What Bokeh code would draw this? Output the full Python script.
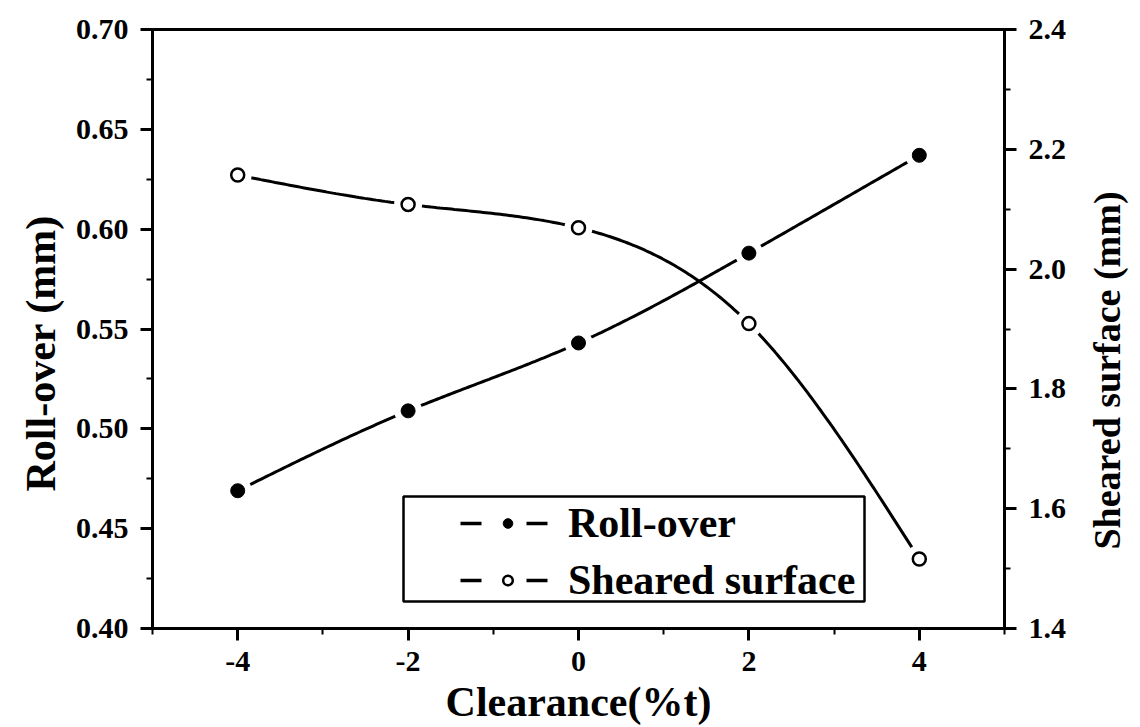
import math
import numpy as np
from bokeh.plotting import figure
from bokeh.layouts import row
from bokeh.models import (Range1d, LinearAxis, FixedTicker, Legend, LegendItem,
                          BoxAnnotation, ColumnDataSource, Title, Label)
from bokeh.embed import file_html
from bokeh.resources import INLINE

# ---------------- data ----------------
clearance = [-4, -2, 0, 2, 4]
roll_over = [0.469, 0.509, 0.543, 0.588, 0.637]
sheared_surface = [2.157, 2.108, 2.069, 1.909, 1.516]

series_names = ["Roll-over", "Sheared surface"]
x_title = "Clearance(%t)"
left_title = "Roll-over (mm)"
right_title = "Sheared surface (mm)"

x_ticks = [-4, -2, 0, 2, 4]
x_tick_labels = ["-4", "-2", "0", "2", "4"]
x_minor_ticks = [-5, -3, -1, 1, 3, 5]
left_ticks = [0.40, 0.45, 0.50, 0.55, 0.60, 0.65, 0.70]
left_tick_labels = ["0.40", "0.45", "0.50", "0.55", "0.60", "0.65", "0.70"]
left_minor_ticks = [0.425, 0.475, 0.525, 0.575, 0.625, 0.675]
right_ticks = [1.4, 1.6, 1.8, 2.0, 2.2, 2.4]
right_tick_labels = ["1.4", "1.6", "1.8", "2.0", "2.2", "2.4"]
right_minor_ticks = [1.5, 1.7, 1.9, 2.1, 2.3]


def natural_spline(x, y, pts=60):
    """Smooth rendering path through the data points (natural cubic spline)."""
    x = np.asarray(x, float)
    y = np.asarray(y, float)
    n = len(x)
    h = np.diff(x)
    A = np.zeros((n, n))
    b = np.zeros(n)
    A[0, 0] = A[-1, -1] = 1.0
    for i in range(1, n - 1):
        A[i, i - 1] = h[i - 1]
        A[i, i] = 2 * (h[i - 1] + h[i])
        A[i, i + 1] = h[i]
        b[i] = 6 * ((y[i + 1] - y[i]) / h[i] - (y[i] - y[i - 1]) / h[i - 1])
    M = np.linalg.solve(A, b)
    xs, ys = [], []
    for i in range(n - 1):
        t = np.linspace(x[i], x[i + 1], pts)
        a = x[i + 1] - t
        c = t - x[i]
        s = (M[i] * a ** 3 + M[i + 1] * c ** 3) / (6 * h[i]) \
            + (y[i] / h[i] - M[i] * h[i] / 6) * a \
            + (y[i + 1] / h[i] - M[i + 1] * h[i] / 6) * c
        xs.extend(t.tolist())
        ys.extend(s.tolist())
    return xs, ys


FONT = "Liberation Serif"

p = figure(width=1086, height=727,
           x_range=Range1d(-5, 5), y_range=Range1d(0.40, 0.70),
           output_backend="svg", toolbar_location=None,
           min_border_left=152, min_border_right=82,
           min_border_top=29, min_border_bottom=98,
           background_fill_color="white", border_fill_color="white")
p.extra_y_ranges = {"right": Range1d(1.4, 2.4)}
p.grid.visible = False
p.outline_line_color = "black"
p.outline_line_width = 3

right_axis = LinearAxis(y_range_name="right")
p.add_layout(right_axis, "right")


def style_axis(ax, ticks, labels, minor):
    ax.ticker = FixedTicker(ticks=ticks, minor_ticks=minor)
    ax.major_label_overrides = {t: l for t, l in zip(ticks, labels)}
    ax.axis_line_color = "black"
    ax.axis_line_width = 3
    ax.major_tick_line_color = "black"
    ax.major_tick_line_width = 3
    ax.major_tick_in = 0
    ax.major_tick_out = 12
    ax.minor_tick_line_color = "black"
    ax.minor_tick_line_width = 2
    ax.minor_tick_in = 0
    ax.minor_tick_out = 6
    ax.major_label_standoff = 12
    ax.major_label_text_font = FONT
    ax.major_label_text_font_style = "bold"
    ax.major_label_text_font_size = "30px"
    ax.major_label_text_color = "black"


style_axis(p.xaxis[0], x_ticks, x_tick_labels, x_minor_ticks)
style_axis(p.yaxis[0], left_ticks, left_tick_labels, left_minor_ticks)
style_axis(right_axis, right_ticks, right_tick_labels, right_minor_ticks)

xa = p.xaxis[0]
xa.major_label_standoff = 11
xa.axis_label = x_title
xa.axis_label_text_font = FONT
xa.axis_label_text_font_style = "bold"
xa.axis_label_text_font_size = "42px"
xa.axis_label_text_color = "black"
xa.axis_label_standoff = 5

# left title (reads bottom-to-top), placed in the left side panel
p.add_layout(Title(text=left_title, align="left", offset=137,
                   text_font=FONT, text_font_style="bold",
                   text_font_size="42px", text_color="black", standoff=18),
             "left")

# ---------------- curves ----------------
rx, ry = natural_spline(clearance, roll_over)
sx, sy = natural_spline(clearance, sheared_surface)

p.line(rx, ry, line_color="black", line_width=3)
p.line(sx, sy, line_color="black", line_width=3, y_range_name="right")

src_r = ColumnDataSource(dict(x=clearance, y=roll_over))
src_s = ColumnDataSource(dict(x=clearance, y=sheared_surface))

# white gaps around markers
p.scatter("x", "y", source=src_r, size=28, fill_color="white", line_color=None)
p.scatter("x", "y", source=src_s, size=28, fill_color="white", line_color=None,
          y_range_name="right")

m_r = p.scatter("x", "y", source=src_r, size=14, fill_color="black",
                line_color="black", line_width=1)
m_s = p.scatter("x", "y", source=src_s, size=13, fill_color="white",
                line_color="black", line_width=2.5, y_range_name="right")

# legend-only dashed lines (NaN data, nothing drawn in plot)
leg_r = p.line(x=[float("nan")], y=[float("nan")], line_color="black",
               line_width=3.5, line_dash="21 45")
leg_s = p.line(x=[float("nan")], y=[float("nan")], line_color="black",
               line_width=3.5, line_dash="21 45")

legend = Legend(items=[LegendItem(label=series_names[0], renderers=[leg_r, m_r]),
                       LegendItem(label=series_names[1], renderers=[leg_s, m_s])],
                location=(308, 24), padding=0, margin=0, spacing=9,
                glyph_width=95, glyph_height=24, label_height=44,
                label_standoff=13, label_text_font=FONT,
                label_text_font_style="bold", label_text_font_size="42px",
                label_text_color="black",
                border_line_alpha=0, background_fill_alpha=0)
p.add_layout(legend, "center")

box = BoxAnnotation(left=251, right=712, bottom=27, top=132,
                    left_units="screen", right_units="screen",
                    bottom_units="screen", top_units="screen",
                    fill_alpha=0, line_color="black", line_alpha=1,
                    line_width=2.5)
p.add_layout(box)

# ---------------- right title strip (reads bottom-to-top) ----------------
q = figure(width=54, height=727, x_range=Range1d(0, 1), y_range=Range1d(0, 1),
           output_backend="svg", toolbar_location=None,
           x_axis_location=None, y_axis_location=None,
           min_border=0, min_border_left=0, min_border_right=0,
           min_border_top=0, min_border_bottom=0,
           background_fill_color="white", border_fill_color="white")
q.grid.visible = False
q.outline_line_color = None
q.add_layout(Label(x=20, y=258, x_units="screen", y_units="screen",
                   text=right_title, angle=90, angle_units="deg",
                   text_align="center", text_baseline="middle",
                   text_font=FONT, text_font_style="bold",
                   text_font_size="38px", text_color="black"))

layout = row(p, q, spacing=0)
open("out.html", "w").write(file_html(layout, INLINE))
